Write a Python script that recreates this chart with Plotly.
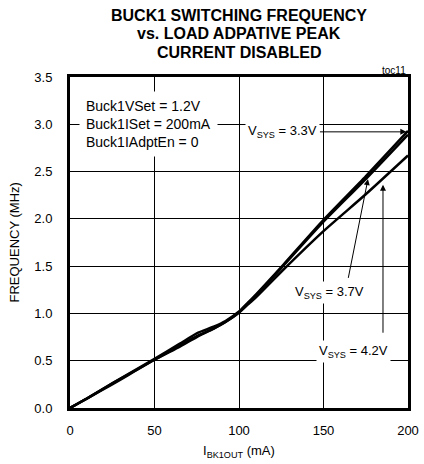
import plotly.graph_objects as go

# Data
load_ma = [0, 10, 25, 50, 65, 75, 85, 92, 100, 105, 110, 125, 150, 175, 200]
f_vsys33 = [0, 0.10, 0.26, 0.52, 0.68, 0.79, 0.86, 0.92, 1.02, 1.11, 1.20, 1.49, 1.99, 2.45, 2.93]
f_vsys37 = [0, 0.10, 0.26, 0.51, 0.66, 0.76, 0.84, 0.91, 1.01, 1.10, 1.19, 1.48, 1.97, 2.42, 2.89]
f_vsys42 = [0, 0.10, 0.25, 0.51, 0.65, 0.75, 0.84, 0.91, 1.01, 1.09, 1.17, 1.44, 1.87, 2.26, 2.67]

x_ticks = [0, 50, 100, 150, 200]
y_ticks = [0.0, 0.5, 1.0, 1.5, 2.0, 2.5, 3.0, 3.5]

FONT = "Liberation Sans, Arial, sans-serif"

fig = go.Figure()
for name, ys in [("VSYS = 3.3V", f_vsys33), ("VSYS = 3.7V", f_vsys37), ("VSYS = 4.2V", f_vsys42)]:
    fig.add_trace(go.Scatter(x=load_ma, y=ys, mode="lines", name=name,
                             line=dict(color="black", width=2.5, shape="spline", smoothing=0.6),
                             showlegend=False, hoverinfo="skip"))

axis_common = dict(showline=True, linecolor="black", linewidth=3, mirror=True,
                   showgrid=True, gridcolor="black", gridwidth=1, zeroline=False,
                   ticks="", automargin=False, tickfont=dict(family=FONT, size=13, color="black"))

fig.update_xaxes(range=[0, 200], tickvals=x_ticks, ticklabelstandoff=8, **axis_common)
fig.update_yaxes(range=[0, 3.5], tickvals=y_ticks, tickformat=".1f", ticklabelstandoff=12, **axis_common)

ann = []
# Title lines
for txt, py in [("BUCK1 SWITCHING FREQUENCY", 15), ("vs. LOAD ADPATIVE PEAK", 33), ("CURRENT DISABLED", 52)]:
    ann.append(dict(text="<b>%s</b>" % txt, xref="paper", yref="paper", x=0.5, y=(408 - py) / 331,
                    xanchor="center", yanchor="middle", showarrow=False,
                    font=dict(family=FONT, size=16, color="black")))
# toc11
ann.append(dict(text="toc11", xref="paper", yref="paper", x=1.0, y=(408 - 70) / 331,
                xanchor="right", yanchor="middle", showarrow=False,
                font=dict(family=FONT, size=10, color="black")))
# Axis titles
ann.append(dict(text="I<sub>BK1OUT</sub> (mA)", xref="paper", yref="paper", x=0.5, y=(408 - 451) / 331,
                xanchor="center", yanchor="middle", showarrow=False,
                font=dict(family=FONT, size=13, color="black")))
ann.append(dict(text="FREQUENCY (MHz)", xref="paper", yref="paper", x=(14 - 70) / 338, y=0.5,
                xanchor="center", yanchor="middle", showarrow=False, textangle=-90,
                font=dict(family=FONT, size=13, color="black")))
# Conditions box
ann.append(dict(text="Buck1VSet = 1.2V<br>Buck1ISet = 200mA<br>Buck1IAdptEn = 0",
                x=5.5, y=3.0, xanchor="left", yanchor="middle", align="left", showarrow=False,
                bgcolor="white", borderpad=6,
                font=dict(family=FONT, size=14, color="black")))
# VSYS labels
lab_font = dict(family=FONT, size=13, color="black")
ann.append(dict(text="V<sub>SYS</sub> = 3.3V", x=199, y=2.92, ax=126, ay=2.92,
                axref="x", ayref="y", showarrow=True, arrowhead=2, arrowsize=1.2, arrowwidth=1,
                arrowcolor="black", bgcolor="white", borderpad=2, font=lab_font))
ann.append(dict(text="V<sub>SYS</sub> = 3.7V", x=153.5, y=1.22, showarrow=False,
                bgcolor="white", borderpad=2, font=lab_font))
ann.append(dict(text="V<sub>SYS</sub> = 4.2V", x=167.5, y=0.6, showarrow=False,
                bgcolor="white", borderpad=2, font=lab_font))
# Arrows
ann.append(dict(text="", x=176.3, y=2.42, ax=164.5, ay=1.36, axref="x", ayref="y",
                showarrow=True, arrowhead=2, arrowsize=1.2, arrowwidth=1, arrowcolor="black"))
ann.append(dict(text="", x=185.2, y=2.36, ax=185.2, ay=0.78, axref="x", ayref="y",
                showarrow=True, arrowhead=2, arrowsize=1.2, arrowwidth=1, arrowcolor="black"))

fig.update_layout(width=424, height=464, margin=dict(l=70, r=16, t=77, b=56),
                  plot_bgcolor="white", paper_bgcolor="white", annotations=ann,
                  font=dict(family=FONT, color="black"))

fig.write_html("out.html", config={"displayModeBar": False},
               post_script="document.body.style.margin='0';document.body.style.overflow='hidden';")
